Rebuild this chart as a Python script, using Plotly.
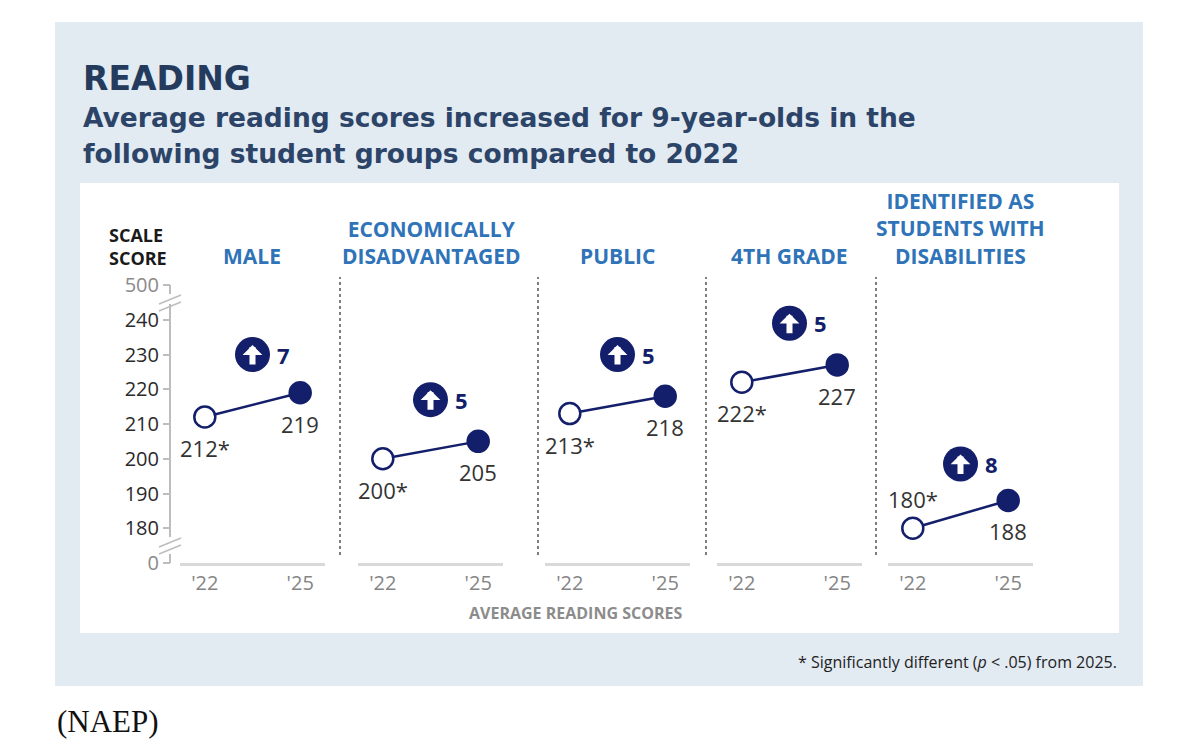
import plotly.graph_objects as go

# student groups and scores (NAEP reading, age 9)
groups = ["MALE", "ECONOMICALLY<br>DISADVANTAGED", "PUBLIC", "4TH GRADE",
          "IDENTIFIED AS<br>STUDENTS WITH<br>DISABILITIES"]
years = ["'22", "'25"]
scores_2022 = [212, 200, 213, 222, 180]
scores_2025 = [219, 205, 218, 227, 188]
significant_2022 = [True, True, True, True, True]

# broken axis: 0 and 500 sit at the ends of the 180-240 scale
y_tickvals = [170, 180, 190, 200, 210, 220, 230, 240, 250]
y_ticktext = ["0", "180", "190", "200", "210", "220", "230", "240", "500"]

# figure is drawn inside the page body (8px default margin)
OFF = 8
W, H = 1200 - 2 * OFF, 755 - 2 * OFF
NAVY = "#131f6b"
BLUE = "#2f73b8"
GREY_TXT = "#333333"


def px(x):
    return (x - OFF) / W


def py(y):
    return 1 - (y - OFF) / H


# panel baselines (pixel left edge), each 145px wide
panel_left = [180, 358, 545, 717, 888]
panel_w = 145
separators = [340, 538, 706, 876]
label_above_22 = [False, False, False, False, True]

fig = go.Figure()
shapes = []
annotations = []

# background panels
shapes.append(dict(type="rect", xref="paper", yref="paper", x0=px(55), x1=px(1143),
                   y0=py(686), y1=py(22), fillcolor="#e2eaf2", line_width=0, layer="below"))
shapes.append(dict(type="rect", xref="paper", yref="paper", x0=px(80), x1=px(1119),
                   y0=py(633), y1=py(183), fillcolor="white", line_width=0, layer="below"))

for i, g in enumerate(groups):
    xa = "x" if i == 0 else f"x{i + 1}"
    s22, s25 = scores_2022[i], scores_2025[i]
    fig.add_trace(go.Scatter(x=[0, 1], y=[s22, s25], mode="lines",
                             line=dict(color=NAVY, width=2.5), xaxis=xa, yaxis="y",
                             hoverinfo="skip", showlegend=False))
    fig.add_trace(go.Scatter(x=[0, 1], y=[s22, s25], mode="markers",
                             marker=dict(size=21, color=["white", NAVY],
                                         line=dict(color=NAVY, width=2.5)),
                             xaxis=xa, yaxis="y", cliponaxis=False, showlegend=False))
    # change badge
    diff = s25 - s22
    yb = (s22 + s25) / 2 + 14.5
    fig.add_trace(go.Scatter(x=[0.5], y=[yb], mode="markers",
                             marker=dict(size=35, color=NAVY), xaxis=xa, yaxis="y",
                             cliponaxis=False, showlegend=False, hoverinfo="skip"))
    annotations.append(dict(x=0.5, y=yb, xref=xa, yref="y", text="", showarrow=True,
                            ax=0, ay=21, yshift=9.5, arrowcolor="white", arrowwidth=6,
                            arrowhead=1, arrowsize=0.55, standoff=0, startstandoff=0))
    annotations.append(dict(x=0.5, y=yb, xref=xa, yref="y", text=f"<b>{diff}</b>",
                            showarrow=False, xshift=31, xanchor="center", yanchor="middle",
                            font=dict(family="Open Sans", size=22, color=NAVY)))
    # value labels
    t22 = f"{s22}*" if significant_2022[i] else str(s22)
    annotations.append(dict(x=0, y=s22, xref=xa, yref="y", text=t22, showarrow=False,
                            yshift=29 if label_above_22[i] else -31,
                            xanchor="center", yanchor="middle",
                            font=dict(family="Open Sans", size=22, color=GREY_TXT)))
    annotations.append(dict(x=1, y=s25, xref=xa, yref="y", text=str(s25), showarrow=False,
                            yshift=-31, xanchor="center", yanchor="middle",
                            font=dict(family="Open Sans", size=22, color=GREY_TXT)))
    # group header
    annotations.append(dict(x=0.5, y=py(272), xref=xa, yref="paper", text=f"<b>{g}</b>",
                            showarrow=False, xanchor="center", yanchor="bottom",
                            font=dict(family="Open Sans", size=21, color=BLUE)))

    fig.update_layout({
        ("xaxis" if i == 0 else f"xaxis{i + 1}"): dict(
            domain=[px(panel_left[i]), px(panel_left[i] + panel_w)],
            range=[-0.26, 1.26], tickvals=[0, 1], ticktext=years,
            showline=True, linecolor="#d9d9d9", linewidth=3, showgrid=False,
            zeroline=False, ticks="", anchor="y",
            tickfont=dict(family="Open Sans", size=20, color="#858585"))
    })

# dotted separators
for s in separators:
    shapes.append(dict(type="line", xref="paper", yref="paper", x0=px(s), x1=px(s),
                       y0=py(555), y1=py(277), line=dict(color="#555555", width=1.5, dash="dot")))

# y axis line with break marks
AX = 170
axis_line = dict(color="#bdbdbd", width=2)
for y0, y1 in [(285, 294), (304, 537), (554, 563)]:
    shapes.append(dict(type="line", xref="paper", yref="paper", x0=px(AX), x1=px(AX),
                       y0=py(y0), y1=py(y1), line=axis_line))
for yb in [300, 307, 543, 550]:
    shapes.append(dict(type="line", xref="paper", yref="paper", x0=px(159), x1=px(181),
                       y0=py(yb + 4), y1=py(yb - 5), line=dict(color="#bdbdbd", width=1.5)))

ticktext = []
for v, t in zip(y_tickvals, y_ticktext):
    if v in (170, 250):
        ticktext.append(f"<span style='color:#8a8a8a'>{t}</span>")
    else:
        ticktext.append(t)

fig.update_layout(yaxis=dict(domain=[py(563), py(285)], range=[170, 250],
                             tickvals=y_tickvals, ticktext=ticktext, anchor="free",
                             position=px(AX), showline=False, showgrid=False, zeroline=False,
                             ticks="outside", ticklen=7, tickwidth=1.5, tickcolor="#bdbdbd",
                             tickfont=dict(family="Open Sans", size=20, color="#2a2a2a")))

# text blocks
annotations += [
    dict(x=px(81), y=py(78), text="<b>READING</b>", xanchor="left",
         font=dict(family="DejaVu Sans", size=33, color="#243b5e")),
    dict(x=px(81), y=py(117), text="<b>Average reading scores increased for 9-year-olds in the</b>",
         xanchor="left", font=dict(family="DejaVu Sans", size=26.5, color="#2c4468")),
    dict(x=px(81), y=py(153), text="<b>following student groups compared to 2022</b>",
         xanchor="left", font=dict(family="DejaVu Sans", size=26.5, color="#2c4468")),
    dict(x=px(107), y=py(246), text="<b>SCALE<br>SCORE</b>", xanchor="left", align="left",
         font=dict(family="Open Sans", size=18, color="#1a1a1a")),
    dict(x=px(575), y=py(613), text="<b>AVERAGE READING SCORES</b>", xanchor="center",
         font=dict(family="Open Sans", size=16, color="#8c8c8c")),
    dict(x=px(1119), y=py(662), text="* Significantly different (<i>p</i> &lt; .05) from 2025.",
         xanchor="right", font=dict(family="Open Sans", size=16, color="#222222")),
    dict(x=px(55), y=py(721), text="(NAEP)", xanchor="left",
         font=dict(family="Liberation Serif", size=31, color="#111111")),
]
for a in annotations:
    a.setdefault("xref", "paper")
    a.setdefault("yref", "paper")
    a.setdefault("showarrow", False)
    a.setdefault("yanchor", "middle")

fig.update_layout(width=W, height=H,
                  margin=dict(l=0, r=0, t=0, b=0, pad=0, autoexpand=False),
                  paper_bgcolor="white", plot_bgcolor="rgba(0,0,0,0)",
                  shapes=shapes, annotations=annotations, showlegend=False,
                  font=dict(family="Open Sans"))

fig.write_html("out.html")
